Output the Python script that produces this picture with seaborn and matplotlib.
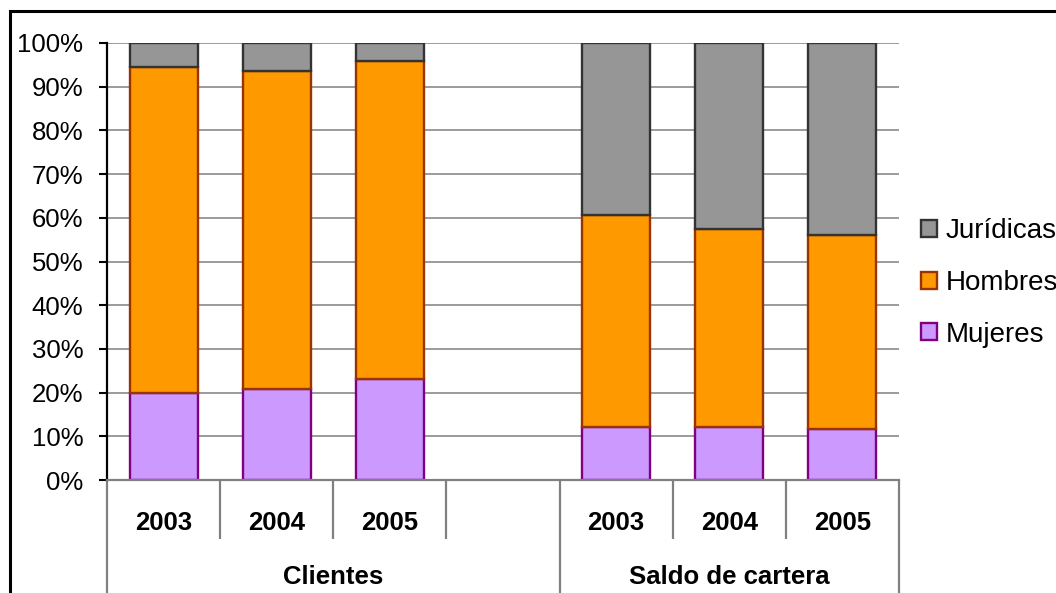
import matplotlib
matplotlib.use("Agg")
import matplotlib.pyplot as plt
import matplotlib.transforms as mtransforms
from matplotlib.patches import Patch, Rectangle
from matplotlib.ticker import FuncFormatter, MultipleLocator
import numpy as np
import pandas as pd
import seaborn as sns

# Composition (%) of clients and portfolio balance by holder type
groups = ["Clientes", "Clientes", "Clientes",
          "Saldo de cartera", "Saldo de cartera", "Saldo de cartera"]
years = ["2003", "2004", "2005", "2003", "2004", "2005"]
mujeres = [20.0, 20.8, 23.1, 12.1, 12.1, 11.7]
hombres = [74.5, 72.8, 72.8, 48.5, 45.3, 44.4]
juridicas = [5.5, 6.4, 4.1, 39.4, 42.6, 43.9]

series_names = ["Mujeres", "Hombres", "Jurídicas"]
fill_colors = ["#CC99FF", "#FF9900", "#969696"]
edge_colors = ["#800080", "#993300", "#333333"]

sns.set_theme(style="white")
plt.rcParams["font.family"] = ["Liberation Sans", "DejaVu Sans"]
plt.rcParams["text.color"] = "black"

slots = [f"{g} {y}" for g, y in zip(groups, years)]
order = slots[:3] + [" "] + slots[3:]
df = pd.DataFrame({"slot": slots, "Mujeres": mujeres,
                   "Hombres": hombres, "Jurídicas": juridicas})

W, H = 1056, 593
fig = plt.figure(figsize=(W / 100, H / 100), dpi=100)
ax = fig.add_axes([107 / W, 113 / H, 792 / W, 437 / H])

bottom = np.zeros(len(df))
for name, fc, ec in zip(series_names, fill_colors, edge_colors):
    sns.barplot(data=df, x="slot", y=name, order=order, color=fc,
                saturation=1, edgecolor=ec, linewidth=1.7, width=0.6,
                errorbar=None, bottom=bottom, ax=ax)
    bottom = bottom + df[name].to_numpy()

ax.set_xlim(-0.5, len(order) - 0.5)
ax.set_ylim(0, 100)
ax.set_xlabel("")
ax.set_ylabel("")
ax.yaxis.set_major_locator(MultipleLocator(10))
ax.yaxis.set_major_formatter(FuncFormatter(lambda v, _: f"{v:.0f}%"))
ax.grid(axis="y", color="#808080", linewidth=1.1)
ax.set_axisbelow(True)
ax.tick_params(axis="y", direction="out", length=6, width=1.5, color="black",
               pad=11, labelsize=18.5, labelcolor="black", left=True)
ax.set_xticks(range(len(order)))
ax.set_xticklabels([""] * len(order))
ax.tick_params(axis="x", length=0)
for side in ("top", "right"):
    ax.spines[side].set_visible(False)
ax.spines["left"].set_color("black")
ax.spines["left"].set_linewidth(1.6)
ax.spines["bottom"].set_color("#808080")
ax.spines["bottom"].set_linewidth(1.6)

# Category table under the bars
trans = mtransforms.blended_transform_factory(ax.transData, ax.transAxes)
for i, slot in enumerate(order):
    if slot.strip():
        ax.text(i, -0.098, slot.split()[-1], transform=trans, ha="center",
                va="center", fontsize=18.5, fontweight="bold", color="black")
ax.text(1.5, -0.222, "Clientes", transform=trans, ha="center", va="center",
        fontsize=18.5, fontweight="bold", color="black")
ax.text(5.0, -0.222, "Saldo de cartera", transform=trans, ha="center",
        va="center", fontsize=18.5, fontweight="bold", color="black")
for k in range(len(order) + 1):
    xe = k - 0.5
    y_end = -0.3 if k in (0, 4, len(order)) else -0.135
    ax.plot([xe, xe], [0, y_end], transform=trans, color="#808080",
            linewidth=1.6, clip_on=False, solid_capstyle="butt")

# Legend (top series first)
handles = [Patch(facecolor=fc, edgecolor=ec, linewidth=1.7)
           for fc, ec in zip(fill_colors, edge_colors)][::-1]
labels = series_names[::-1]
leg = fig.legend(handles, labels, loc="center left",
                 bbox_to_anchor=(921 / W, (H - 283) / H), frameon=False,
                 fontsize=20, handlelength=0.58, handleheight=0.58,
                 handletextpad=0.3, labelspacing=0.92, borderpad=0,
                 borderaxespad=0)
for t in leg.get_texts():
    t.set_color("black")

# Outer chart border
fig.patches.append(Rectangle((9.5 / W, -0.1), 1.2, (H - 11.5) / H + 0.1,
                             transform=fig.transFigure, fill=False,
                             edgecolor="black", linewidth=2.2))

fig.savefig("out.png", dpi=100)
